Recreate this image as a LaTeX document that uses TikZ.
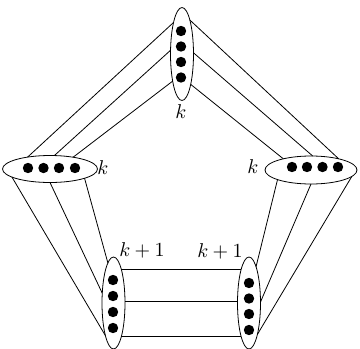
\documentclass[tikz,border=0pt]{standalone}
\usetikzlibrary{shapes.geometric}
\begin{document}
\begin{tikzpicture}[x=0.5pt,y=-0.5pt,
  grp/.style={draw, ellipse, inner sep=0pt, outer sep=0pt, line width=0.4pt},
  vgrp/.style={grp, minimum width=11.5pt, minimum height=46pt},
  hgrp/.style={grp, minimum width=47.5pt, minimum height=13.5pt},
  dot/.style={circle, fill, inner sep=0pt, minimum size=5.2pt},
  edge/.style={line width=0.4pt},
  lbl/.style={inner sep=0pt}]
\useasboundingbox (0,0) rectangle (360,349);
% groups
\node[vgrp, minimum height=46.5pt] (T) at (182,54) {};
\node[hgrp] (L) at (50,169) {};
\node[hgrp, minimum width=46pt, minimum height=14pt] (R) at (311,170) {};
\node[vgrp] (BL) at (113.5,303) {};
\node[vgrp] (BR) at (249,303) {};
% dots
\foreach \y [count=\i] in {31,46.5,62,77.5} \node[dot] (T\i) at (181,\y) {};
\foreach \x [count=\i] in {28,43.5,59,75} \node[dot] (L\i) at (\x,168) {};
\foreach \x [count=\i] in {292,307,322.5,338} \node[dot] (R\i) at (\x,167) {};
\foreach \y [count=\i] in {280,296,312,328} \node[dot] (BL\i) at (113,\y) {};
\foreach \y [count=\i] in {283,298.5,314,330} \node[dot] (BR\i) at (249,\y) {};
% connectors
\draw[edge] (T.105) -- (L.152);
\draw[edge] (T.162) -- (L.72);
\draw[edge] (T.251) -- (L.27);
\draw[edge] (T.77) -- (R.22);
\draw[edge] (T.6) -- (R.83);
\draw[edge] (T.286) -- (R.158);
\draw[edge] (L.192) -- (BL.256);
\draw[edge] (L.270) -- (BL.139);
\draw[edge] (L.345) -- (BL.98);
\draw[edge] (R.196) -- (BR.79);
\draw[edge] (R.270) -- (BR.5);
\draw[edge] (R.351) -- (BR.285);
\draw[edge] (BL.77) -- (BR.103);
\draw[edge] (BL.10) -- (BR.170);
\draw[edge] (BL.283) -- (BR.257);
% labels
\node[lbl] (kT) at (181,112) {$k$};
\node[lbl] (kL) at (103,168) {$k$};
\node[lbl] (kR) at (253,167) {$k$};
\node[lbl] (kBL) at (142,250) {$k+1$};
\node[lbl] (kBR) at (220,251) {$k+1$};
\end{tikzpicture}
\end{document}
